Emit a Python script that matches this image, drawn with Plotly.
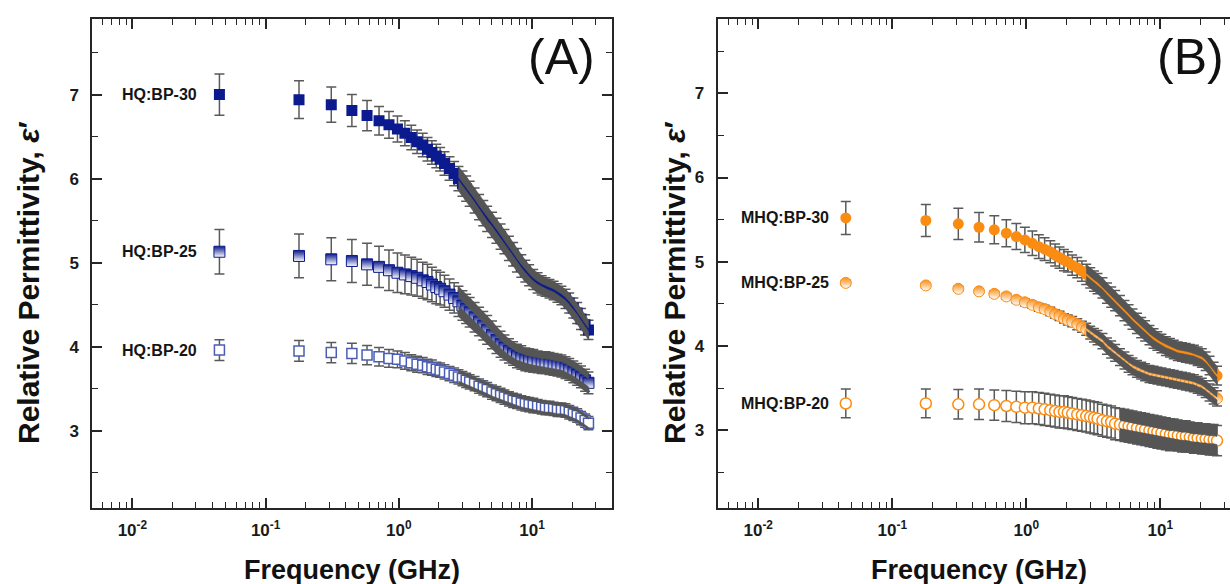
import math
import plotly.graph_objects as go

# ---------------- data ----------------
FREQ_GHZ = [0.045, 0.178, 0.311, 0.444, 0.577, 0.71, 0.843, 0.976, 1.11, 1.24,
            1.37, 1.51, 1.64, 1.77, 1.91, 2.04, 2.2, 2.4, 2.6, 2.8,
            3.0, 3.2, 3.4, 3.7, 4.0, 4.3, 4.6, 5.0, 5.4, 5.8,
            6.2, 6.7, 7.2, 7.7, 8.3, 8.9, 9.5, 10.2, 11.0, 11.8,
            12.6, 13.5, 14.5, 15.5, 16.6, 17.8, 19.0, 20.4, 21.8, 23.3,
            25.0, 26.5]

# Panel (A)
HQ_BP30 = [7.00, 6.94, 6.88, 6.81, 6.75, 6.69, 6.64, 6.59, 6.54, 6.49,
           6.44, 6.40, 6.35, 6.31, 6.27, 6.23, 6.18, 6.12, 6.06, 6.00,
           5.94, 5.88, 5.82, 5.74, 5.66, 5.59, 5.52, 5.45, 5.38, 5.31,
           5.25, 5.17, 5.10, 5.03, 4.96, 4.90, 4.85, 4.80, 4.76, 4.73,
           4.71, 4.69, 4.67, 4.64, 4.61, 4.57, 4.52, 4.46, 4.40, 4.33,
           4.26, 4.20]
HQ_BP30_ERR = [0.245, 0.225, 0.21, 0.19, 0.18, 0.17, 0.16, 0.155, 0.15, 0.145,
               0.14, 0.14, 0.14, 0.14, 0.14, 0.14, 0.14, 0.14, 0.145, 0.145,
               0.15, 0.15, 0.15, 0.15, 0.15, 0.15, 0.15, 0.15, 0.15, 0.15,
               0.145, 0.145, 0.14, 0.14, 0.135, 0.13, 0.125, 0.12, 0.12, 0.115,
               0.11, 0.11, 0.11, 0.11, 0.11, 0.115, 0.12, 0.12, 0.125, 0.125,
               0.12, 0.115]

HQ_BP25 = [5.13, 5.08, 5.04, 5.02, 4.98, 4.95, 4.91, 4.88, 4.86, 4.84,
           4.82, 4.79, 4.77, 4.74, 4.71, 4.69, 4.66, 4.62, 4.58, 4.54,
           4.49, 4.45, 4.41, 4.35, 4.30, 4.25, 4.20, 4.14, 4.08, 4.03,
           3.99, 3.95, 3.92, 3.89, 3.87, 3.85, 3.84, 3.83, 3.82, 3.81,
           3.81, 3.80, 3.79, 3.78, 3.77, 3.75, 3.73, 3.70, 3.67, 3.64,
           3.60, 3.57]
HQ_BP25_ERR = [0.265, 0.26, 0.255, 0.255, 0.25, 0.245, 0.24, 0.235, 0.23, 0.225,
               0.22, 0.215, 0.21, 0.205, 0.20, 0.195, 0.19, 0.185, 0.18, 0.18,
               0.175, 0.175, 0.175, 0.175, 0.17, 0.17, 0.17, 0.165, 0.16, 0.155,
               0.15, 0.145, 0.14, 0.14, 0.14, 0.135, 0.135, 0.135, 0.13, 0.13,
               0.13, 0.13, 0.13, 0.13, 0.13, 0.13, 0.13, 0.13, 0.13, 0.13,
               0.13, 0.13]

HQ_BP20 = [3.96, 3.95, 3.93, 3.92, 3.90, 3.88, 3.86, 3.85, 3.83, 3.81,
           3.79, 3.78, 3.76, 3.75, 3.73, 3.72, 3.70, 3.68, 3.66, 3.64,
           3.62, 3.60, 3.58, 3.56, 3.53, 3.51, 3.49, 3.46, 3.44, 3.42,
           3.40, 3.38, 3.36, 3.35, 3.33, 3.32, 3.31, 3.30, 3.29, 3.28,
           3.27, 3.27, 3.26, 3.25, 3.25, 3.24, 3.22, 3.20, 3.18, 3.15,
           3.12, 3.09]
HQ_BP20_ERR = [0.123, 0.123, 0.12, 0.12, 0.115, 0.11, 0.105, 0.10, 0.10, 0.095,
               0.095, 0.09, 0.09, 0.09, 0.085, 0.085, 0.085, 0.085, 0.085, 0.085,
               0.085, 0.085, 0.085, 0.085, 0.085, 0.085, 0.085, 0.085, 0.085, 0.085,
               0.085, 0.085, 0.085, 0.085, 0.085, 0.085, 0.085, 0.085, 0.08, 0.08,
               0.08, 0.08, 0.08, 0.08, 0.08, 0.08, 0.08, 0.08, 0.08, 0.08,
               0.08, 0.08]

# Panel (B)
MHQ_BP30 = [5.52, 5.49, 5.45, 5.41, 5.38, 5.34, 5.30, 5.26, 5.22, 5.18,
            5.15, 5.12, 5.08, 5.05, 5.02, 5.00, 4.96, 4.93, 4.89, 4.85,
            4.81, 4.77, 4.74, 4.69, 4.63, 4.58, 4.54, 4.48, 4.42, 4.37,
            4.32, 4.27, 4.22, 4.18, 4.13, 4.09, 4.06, 4.03, 4.00, 3.98,
            3.96, 3.94, 3.93, 3.92, 3.91, 3.90, 3.88, 3.86, 3.82, 3.77,
            3.70, 3.65]
MHQ_BP30_ERR = [0.196, 0.19, 0.184, 0.174, 0.165, 0.16, 0.155, 0.15, 0.145, 0.14,
                0.135, 0.13, 0.13, 0.125, 0.125, 0.12, 0.12, 0.12, 0.12, 0.12,
                0.12, 0.12, 0.12, 0.12, 0.12, 0.12, 0.12, 0.12, 0.12, 0.12,
                0.12, 0.12, 0.12, 0.12, 0.115, 0.115, 0.11, 0.11, 0.11, 0.11,
                0.11, 0.11, 0.11, 0.11, 0.11, 0.11, 0.11, 0.11, 0.11, 0.11,
                0.11, 0.11]

MHQ_BP25 = [4.75, 4.72, 4.68, 4.65, 4.62, 4.59, 4.55, 4.52, 4.49, 4.46,
            4.44, 4.41, 4.38, 4.36, 4.33, 4.31, 4.29, 4.26, 4.23, 4.20,
            4.16, 4.13, 4.10, 4.06, 4.00, 3.96, 3.92, 3.87, 3.83, 3.79,
            3.76, 3.73, 3.71, 3.69, 3.67, 3.66, 3.65, 3.64, 3.63, 3.62,
            3.61, 3.60, 3.59, 3.58, 3.57, 3.56, 3.54, 3.52, 3.49, 3.45,
            3.41, 3.38]
MHQ_BP25_ERR = [0.03, 0.03, 0.03, 0.03, 0.03, 0.035, 0.035, 0.04, 0.04, 0.045,
                0.045, 0.05, 0.05, 0.055, 0.055, 0.06, 0.06, 0.065, 0.065, 0.07,
                0.075, 0.08, 0.085, 0.09, 0.095, 0.10, 0.10, 0.10, 0.10, 0.10,
                0.10, 0.10, 0.10, 0.10, 0.10, 0.10, 0.10, 0.10, 0.10, 0.10,
                0.10, 0.10, 0.10, 0.10, 0.10, 0.10, 0.10, 0.10, 0.10, 0.10,
                0.095, 0.09]

MHQ_BP20 = [3.32, 3.32, 3.31, 3.31, 3.30, 3.29, 3.28, 3.27, 3.27, 3.26,
            3.25, 3.24, 3.23, 3.22, 3.22, 3.21, 3.20, 3.19, 3.18, 3.17,
            3.16, 3.15, 3.14, 3.12, 3.11, 3.10, 3.08, 3.07, 3.06, 3.05,
            3.04, 3.03, 3.02, 3.01, 3.00, 2.99, 2.98, 2.97, 2.96, 2.95,
            2.95, 2.94, 2.93, 2.93, 2.92, 2.91, 2.91, 2.90, 2.90, 2.89,
            2.89, 2.88]
MHQ_BP20_ERR = [0.17, 0.17, 0.175, 0.18, 0.18, 0.185, 0.185, 0.19, 0.19, 0.19,
                0.19, 0.19, 0.19, 0.19, 0.19, 0.19, 0.19, 0.19, 0.19, 0.19,
                0.19, 0.19, 0.19, 0.19, 0.19, 0.19, 0.19, 0.19, 0.19, 0.19,
                0.19, 0.19, 0.19, 0.19, 0.19, 0.19, 0.19, 0.19, 0.19, 0.19,
                0.185, 0.185, 0.185, 0.185, 0.18, 0.18, 0.18, 0.18, 0.18, 0.18,
                0.18, 0.18]

X_TICK_VALS = [0.01, 0.1, 1, 10]
X_TICK_TEXT = ["10<sup>-2</sup>", "10<sup>-1</sup>", "10<sup>0</sup>", "10<sup>1</sup>"]
Y_TICK_VALS = [3, 4, 5, 6, 7]

# ---------------- style ----------------
W, H = 1230, 584
NAVY = "#0b1a8e"
LIGHT_BLUE = "#4b5db5"
ORANGE = "#fb8c12"
ERR_GRAY = "#5a5a5a"
BAND_GRAY = "#555555"
AXIS_COL = "#262626"
FONT = "Liberation Sans"
PX_PER_UNIT = 84.0        # vertical scale of both panels (pixels per permittivity unit)


def fx(p):
    return p / W


def fy(p):
    return (H - p) / H


# band_from: frequency where the overlapping error bars merge into a solid band
series = [
    dict(panel=1, name="HQ:BP-20", y=HQ_BP20, err=HQ_BP20_ERR, shift=-20, gap=4,
         band_from=2.8,
         marker=dict(symbol="square", size=10, color="white",
                     line=dict(color=LIGHT_BLUE, width=1.5))),
    dict(panel=1, name="HQ:BP-25", y=HQ_BP25, err=HQ_BP25_ERR, shift=-20, gap=4,
         band_from=2.8,
         marker=dict(symbol="square", size=11, color=NAVY,
                     gradient=dict(type="vertical", color="white"),
                     line=dict(color=NAVY, width=1))),
    dict(panel=1, name="HQ:BP-30", y=HQ_BP30, err=HQ_BP30_ERR, shift=-20, gap=1.5,
         band_from=2.8,
         marker=dict(symbol="square", size=11, color=NAVY,
                     line=dict(color=NAVY, width=0))),
    dict(panel=2, name="MHQ:BP-20", y=MHQ_BP20, err=MHQ_BP20_ERR, shift=-15, gap=4,
         band_from=5.0,
         marker=dict(symbol="circle", size=11, color="white",
                     line=dict(color=ORANGE, width=1.5))),
    dict(panel=2, name="MHQ:BP-25", y=MHQ_BP25, err=MHQ_BP25_ERR, shift=-15, gap=1.5,
         band_from=2.8,
         marker=dict(symbol="circle", size=11, color=ORANGE,
                     gradient=dict(type="vertical", color="white"),
                     line=dict(color=ORANGE, width=1))),
    dict(panel=2, name="MHQ:BP-30", y=MHQ_BP30, err=MHQ_BP30_ERR, shift=-15, gap=1.5,
         band_from=2.8,
         marker=dict(symbol="circle", size=11, color=ORANGE,
                     line=dict(color=ORANGE, width=0))),
]

fig = go.Figure()

for s in series:
    xa = "x" if s["panel"] == 1 else "x2"
    ya = "y" if s["panel"] == 1 else "y2"
    fig.add_trace(go.Scatter(
        x=FREQ_GHZ, y=s["y"], xaxis=xa, yaxis=ya, mode="markers",
        name=s["name"], marker=s["marker"], showlegend=False,
        error_y=dict(type="data", array=s["err"], visible=True,
                     color=ERR_GRAY, thickness=1.5, width=5)))

    # dense region: overlapping error bars form a solid band over the markers,
    # leaving only a thin strip of the markers visible
    idx = [i for i, f in enumerate(FREQ_GHZ) if f >= s["band_from"]]
    g = s["gap"] / PX_PER_UNIT
    fx_d = [FREQ_GHZ[i] for i in idx]
    fx_r = [FREQ_GHZ[i] for i in reversed(idx)]
    upper = [s["y"][i] + s["err"][i] for i in idx] + [s["y"][i] + g for i in reversed(idx)]
    lower = [s["y"][i] - g for i in idx] + [s["y"][i] - s["err"][i] for i in reversed(idx)]
    for band in (upper, lower):
        fig.add_trace(go.Scatter(x=fx_d + fx_r, y=band, xaxis=xa, yaxis=ya,
                                 mode="lines", line=dict(width=0.5, color=BAND_GRAY),
                                 fill="toself", fillcolor=BAND_GRAY,
                                 hoverinfo="skip", showlegend=False))

    fig.add_annotation(x=math.log10(FREQ_GHZ[0]), y=s["y"][0], xref=xa, yref=ya,
                       text="<b>%s</b>" % s["name"], showarrow=False,
                       xanchor="right", yanchor="middle", xshift=s["shift"],
                       font=dict(family=FONT, size=16, color="#151515"))

minor_x = [m * 10 ** e for e in (-3, -2, -1, 0, 1) for m in range(2, 10)]

common_x = dict(type="log", showgrid=False, zeroline=False, showline=True,
                linecolor=AXIS_COL, linewidth=2, mirror="allticks",
                ticks="inside", ticklen=10, tickwidth=1.5, tickcolor=AXIS_COL,
                tickmode="array", tickvals=X_TICK_VALS, ticktext=X_TICK_TEXT,
                tickfont=dict(family=FONT, size=17, color="#1a1a1a", weight="bold"),
                ticklabelstandoff=6,
                minor=dict(tickmode="array", tickvals=minor_x, ticks="inside",
                           ticklen=6, tickwidth=1.2, tickcolor=AXIS_COL))
common_y = dict(showgrid=False, zeroline=False, showline=True,
                linecolor=AXIS_COL, linewidth=2,
                ticks="inside", ticklen=10, tickwidth=1.5, tickcolor=AXIS_COL,
                tickmode="array", tickvals=Y_TICK_VALS,
                tickfont=dict(family=FONT, size=17, color="#1a1a1a", weight="bold"),
                ticklabelstandoff=8,
                minor=dict(dtick=0.5, tick0=0, ticks="inside", ticklen=6,
                           tickwidth=1.2, tickcolor=AXIS_COL))

ydom = [fy(508), fy(19)]
fig.update_layout(
    width=W, height=H, autosize=False,
    margin=dict(l=0, r=0, t=0, b=0),
    paper_bgcolor="white", plot_bgcolor="white",
    showlegend=False,
    xaxis=dict(domain=[fx(92.3), fx(612.3)], range=[-2.301, 1.602],
               anchor="y", **common_x),
    yaxis=dict(domain=ydom, range=[2.08, 7.90], anchor="x",
               mirror="allticks", **common_y),
    xaxis2=dict(domain=[fx(717.5), 1.0], range=[-2.304, 1.52],
                anchor="y2", **common_x),
    yaxis2=dict(domain=ydom, range=[2.08, 7.88], anchor="x2",
                mirror=False, **common_y),
)

ytitle = "<b>Relative Permittivity, <i>ε</i>′</b>"
xtitle = "<b>Frequency (GHz)</b>"
for x_px in (28, 674):
    fig.add_annotation(x=fx(x_px), y=fy(283), xref="paper", yref="paper",
                       text=ytitle, textangle=-90, showarrow=False,
                       xanchor="center", yanchor="middle",
                       font=dict(family=FONT, size=30, color="#111111"))
for x_px in (352, 979):
    fig.add_annotation(x=fx(x_px), y=fy(570), xref="paper", yref="paper",
                       text=xtitle, showarrow=False,
                       xanchor="center", yanchor="middle",
                       font=dict(family=FONT, size=27, color="#111111"))
for txt, x_px in (("(A)", 561), ("(B)", 1190)):
    fig.add_annotation(x=fx(x_px), y=fy(57), xref="paper", yref="paper",
                       text=txt, showarrow=False,
                       xanchor="center", yanchor="middle",
                       font=dict(family=FONT, size=50, color="#111111"))

fig.write_html("out.html",
               config={"displayModeBar": False},
               post_script="document.body.style.margin='0';"
                           "document.body.style.overflow='hidden';")
